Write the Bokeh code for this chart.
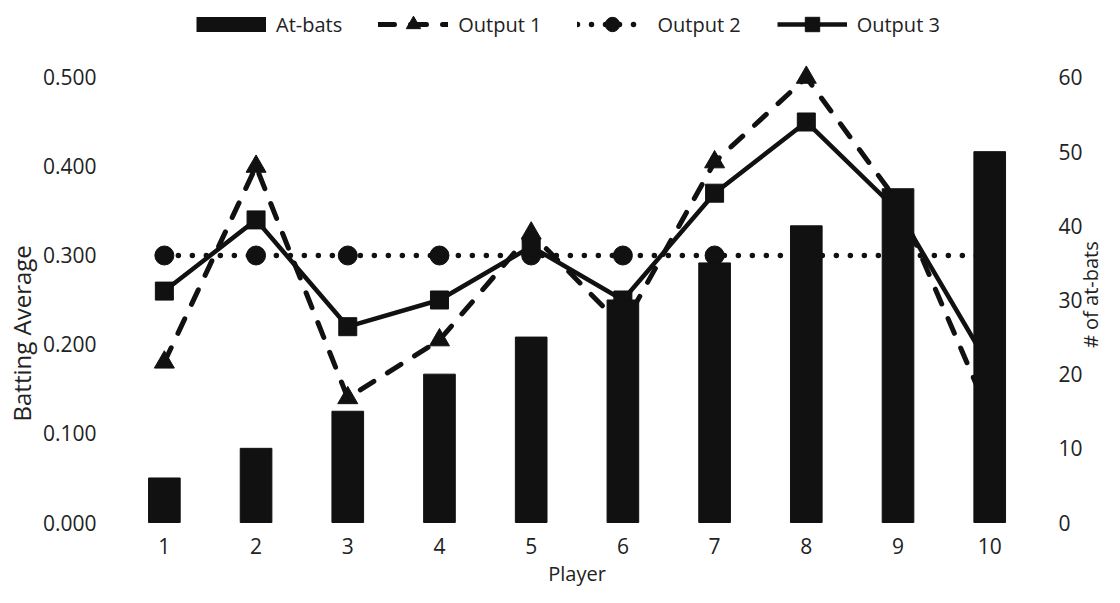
import math
from bokeh.plotting import figure
from bokeh.models import (ColumnDataSource, Range1d, LinearAxis, FixedTicker,
                          PrintfTickFormatter, Legend, LegendItem, Title, Label)
from bokeh.embed import file_html
from bokeh.resources import INLINE

# ---- data ----
players = [1, 2, 3, 4, 5, 6, 7, 8, 9, 10]
at_bats = [6, 10, 15, 20, 25, 30, 35, 40, 45, 50]
output1 = [0.18, 0.40, 0.14, 0.205, 0.325, 0.22, 0.405, 0.50, 0.36, 0.12]
output2 = [0.30, 0.30, 0.30, 0.30, 0.30, 0.30, 0.30, 0.30, 0.30, 0.30]
output3 = [0.26, 0.34, 0.22, 0.25, 0.31, 0.25, 0.37, 0.45, 0.35, 0.175]
avg_ticks = [0.0, 0.1, 0.2, 0.3, 0.4, 0.5]
atbat_ticks = [0, 10, 20, 30, 40, 50, 60]
series_names = ["At-bats", "Output 1", "Output 2", "Output 3"]
x_title = "Player"
left_title = "Batting Average"
right_title = "# of at-bats"

INK = "#111111"
TEXT = "#222222"
FONT = "Open Sans"

# The frame fills the canvas (except the left axis panel) so the legend and
# the titles can sit inside it; the bottom and right axes are pinned at the
# data edges with fixed_location.
X_LO, X_HI = 0.5, 11.2516
AVG_LO, AVG_HI = -0.07303, 0.5865
ATBAT_PER_AVG = 120

src = ColumnDataSource(dict(player=players, atbats=at_bats,
                            out1=output1, out2=output2, out3=output3))

p = figure(width=1104, height=587,
           x_range=Range1d(X_LO, X_HI), y_range=Range1d(AVG_LO, AVG_HI),
           output_backend="svg", toolbar_location=None,
           min_border_left=117, min_border_right=0,
           min_border_top=0, min_border_bottom=0,
           outline_line_color=None,
           background_fill_color="white", border_fill_color="white")
p.extra_y_ranges = {"atbats": Range1d(AVG_LO * ATBAT_PER_AVG, AVG_HI * ATBAT_PER_AVG)}
p.grid.visible = False

def style_axis(ax, standoff):
    ax.axis_line_color = None
    ax.major_tick_line_color = None
    ax.minor_tick_line_color = None
    ax.major_tick_out = 0
    ax.major_tick_in = 0
    ax.major_label_text_font = FONT
    ax.major_label_text_font_size = "21px"
    ax.major_label_text_color = TEXT
    ax.major_label_standoff = standoff

xa = p.xaxis[0]
xa.ticker = FixedTicker(ticks=players)
xa.fixed_location = 0
style_axis(xa, 15)

ya = p.yaxis[0]
ya.ticker = FixedTicker(ticks=avg_ticks)
ya.formatter = PrintfTickFormatter(format="%.3f")
style_axis(ya, 22)

ra = LinearAxis(y_range_name="atbats", ticker=FixedTicker(ticks=atbat_ticks),
                fixed_location=10.5)
style_axis(ra, 23)
p.add_layout(ra, "right")

p.add_layout(Title(text=left_title, align="left", offset=166, standoff=4,
                   text_font=FONT, text_font_size="24px",
                   text_font_style="normal", text_color=TEXT), "left")

# ---- lines (drawn first, bars are drawn over them) ----
l1 = p.line(x="player", y="out1", source=src, line_color=INK, line_width=5,
            line_dash="16 16", line_cap="round")
s1 = p.scatter(x="player", y="out1", source=src, marker="triangle", size=20,
               fill_color=INK, line_color=INK)
l2 = p.line(x="player", y="out2", source=src, line_color=INK, line_width=5.5,
            line_dash="0 14", line_cap="round")
s2 = p.scatter(x="player", y="out2", source=src, marker="circle", size=19,
               fill_color=INK, line_color=INK)
l3 = p.line(x="player", y="out3", source=src, line_color=INK, line_width=4.5)
s3 = p.scatter(x="player", y="out3", source=src, marker="square", size=18,
               fill_color=INK, line_color=INK)

bars = p.vbar(x="player", top="atbats", width=0.345, bottom=0, source=src,
              y_range_name="atbats", fill_color=INK, line_color=INK)

# legend key for the bars: a thick bar-like stroke (draws nothing in the plot)
bar_key = p.line(x=[float("nan")], y=[float("nan")], line_width=15,
                 line_color=INK, line_cap="butt")

legend = Legend(items=[
    LegendItem(label=series_names[0], renderers=[bar_key]),
    LegendItem(label=series_names[1], renderers=[l1, s1]),
    LegendItem(label=series_names[2], renderers=[l2, s2]),
    LegendItem(label=series_names[3], renderers=[l3, s3]),
], orientation="horizontal", location=(78, 545),
   glyph_width=70, glyph_height=36, label_standoff=10, spacing=36,
   padding=0, margin=0, border_line_color=None, background_fill_alpha=0,
   label_text_font=FONT, label_text_font_size="20px", label_text_color=TEXT)
p.add_layout(legend)

# ---- axis titles ----
p.add_layout(Label(x=5.5, y=-0.0573, text=x_title, text_font=FONT,
                   text_font_size="20px", text_color=TEXT,
                   text_align="center", text_baseline="alphabetic"))
p.add_layout(Label(x=11.099, y=0.256, text=right_title, text_font=FONT,
                   text_font_size="20px", text_color=TEXT, angle=90,
                   angle_units="deg", text_align="center",
                   text_baseline="middle"))

open("out.html", "w").write(file_html(p, INLINE))
